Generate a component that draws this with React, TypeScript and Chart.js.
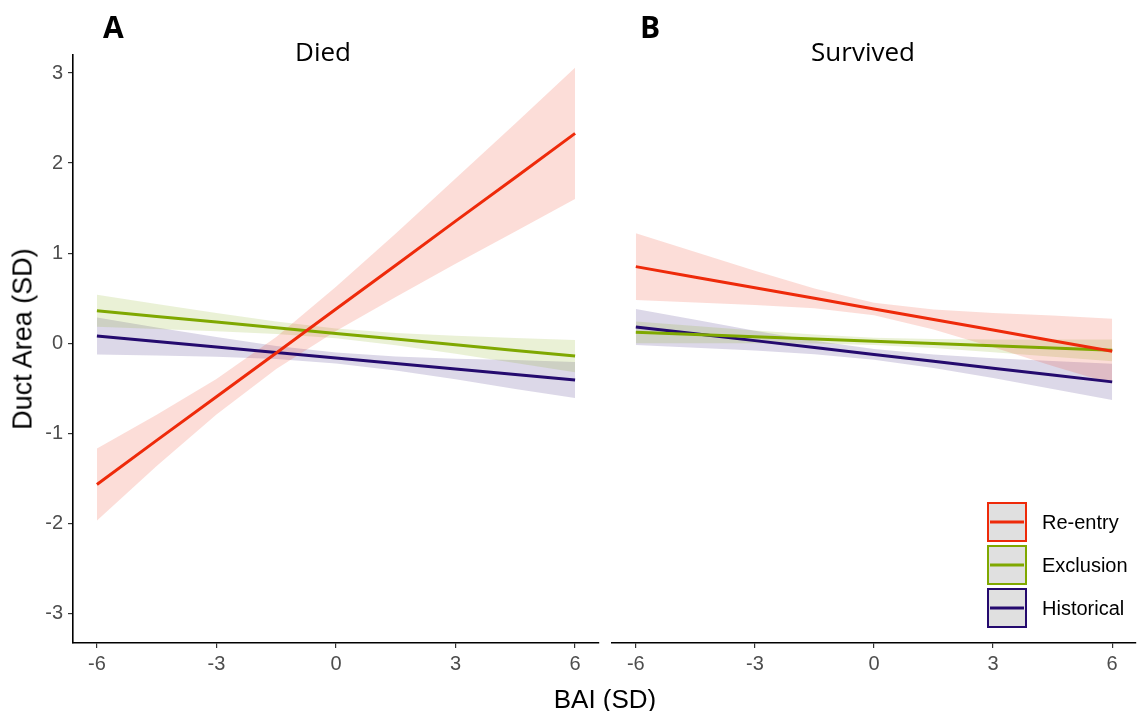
import React, { useEffect, useRef } from "react";
import { Chart, registerables } from "chart.js";
Chart.register(...registerables);

// ---- data ----
const bai = [-6, -4.5, -3, -1.5, 0, 1.5, 3, 4.5, 6];
const xTickValues = [-6, -3, 0, 3, 6];
const xTickLabels = ["-6", "-3", "0", "3", "6"];
const yTickValues = [-3, -2, -1, 0, 1, 2, 3];
const yTickLabels = ["-3", "-2", "-1", "0", "1", "2", "3"];
const groups = ["Re-entry", "Exclusion", "Historical"];
const panelTitles = ["Died", "Survived"];
const panelLetters = ["A", "B"];
const xTitle = "BAI (SD)";
const yTitle = "Duct Area (SD)";

// Died panel
const diedReentryFit = [-1.57, -1.08, -0.595, -0.11, 0.38, 0.865, 1.355, 1.84, 2.33];
const diedReentryHigh = [-1.17, -0.795, -0.398, 0.068, 0.625, 1.217, 1.828, 2.439, 3.06];
const diedReentryLow = [-1.97, -1.365, -0.792, -0.288, 0.135, 0.513, 0.882, 1.241, 1.6];
const diedExclusionFit = [0.36, 0.297, 0.234, 0.171, 0.108, 0.045, -0.018, -0.081, -0.144];
const diedExclusionHigh = [0.538, 0.436, 0.335, 0.24, 0.163, 0.114, 0.083, 0.058, 0.034];
const diedExclusionLow = [0.182, 0.158, 0.133, 0.102, 0.053, -0.024, -0.119, -0.22, -0.322];
const diedHistoricalFit = [0.08, 0.019, -0.042, -0.103, -0.165, -0.226, -0.287, -0.348, -0.41];
const diedHistoricalHigh = [0.285, 0.174, 0.068, -0.031, -0.105, -0.148, -0.172, -0.188, -0.21];
const diedHistoricalLow = [-0.125, -0.136, -0.152, -0.175, -0.225, -0.304, -0.402, -0.508, -0.61];

// Survived panel
const survReentryFit = [0.85, 0.7325, 0.615, 0.4975, 0.38, 0.2625, 0.145, 0.0275, -0.09];
const survReentryHigh = [1.22, 1.0125, 0.805, 0.6075, 0.45, 0.3725, 0.335, 0.3075, 0.27];
const survReentryLow = [0.48, 0.4525, 0.425, 0.3875, 0.31, 0.1525, -0.045, -0.2525, -0.45];
const survExclusionFit = [0.12, 0.095, 0.07, 0.045, 0.02, -0.005, -0.03, -0.055, -0.08];
const survExclusionHigh = [0.24, 0.19, 0.14, 0.095, 0.06, 0.045, 0.04, 0.04, 0.04];
const survExclusionLow = [0.0, 0.0, 0.0, -0.005, -0.02, -0.055, -0.1, -0.15, -0.2];
const survHistoricalFit = [0.18, 0.104, 0.028, -0.049, -0.125, -0.201, -0.278, -0.354, -0.43];
const survHistoricalHigh = [0.38, 0.259, 0.138, 0.026, -0.065, -0.126, -0.168, -0.199, -0.23];
const survHistoricalLow = [-0.02, -0.051, -0.082, -0.124, -0.185, -0.276, -0.388, -0.509, -0.63];

// ---- styles ----
const lineColors = ["#EE2A0A", "#7FA800", "#240A6E"];
const bandColors = ["rgba(238,42,10,0.16)", "rgba(127,168,0,0.16)", "rgba(36,10,110,0.16)"];
const tickFont = { family: '"Liberation Sans", Arial, sans-serif', size: 20 };

type Series = { fit: number[]; high: number[]; low: number[] };

const diedSeries: Series[] = [
  { fit: diedReentryFit, high: diedReentryHigh, low: diedReentryLow },
  { fit: diedExclusionFit, high: diedExclusionHigh, low: diedExclusionLow },
  { fit: diedHistoricalFit, high: diedHistoricalHigh, low: diedHistoricalLow },
];
const survSeries: Series[] = [
  { fit: survReentryFit, high: survReentryHigh, low: survReentryLow },
  { fit: survExclusionFit, high: survExclusionHigh, low: survExclusionLow },
  { fit: survHistoricalFit, high: survHistoricalHigh, low: survHistoricalLow },
];

const toPts = (ys: number[]) => bai.map((x, i) => ({ x, y: ys[i] }));

function buildDatasets(series: Series[]) {
  const ds: any[] = [];
  series.forEach((s, g) => {
    const base = ds.length;
    ds.push({
      label: groups[g] + " upper",
      data: toPts(s.high),
      borderWidth: 0,
      borderColor: "rgba(0,0,0,0)",
      backgroundColor: bandColors[g],
      pointRadius: 0,
      fill: { target: base + 1 },
    });
    ds.push({
      label: groups[g] + " lower",
      data: toPts(s.low),
      borderWidth: 0,
      borderColor: "rgba(0,0,0,0)",
      pointRadius: 0,
      fill: false,
    });
    ds.push({
      label: groups[g],
      data: toPts(s.fit),
      borderWidth: 3,
      borderColor: lineColors[g],
      pointRadius: 0,
      fill: false,
    });
  });
  return ds;
}

const legendPlugin = {
  id: "keyLegend",
  afterDraw(chart: any) {
    const { ctx, chartArea } = chart;
    const bx = chartArea.right - 149;
    const by0 = chartArea.bottom - 141;
    ctx.save();
    groups.forEach((g, i) => {
      const y = by0 + i * 43;
      ctx.fillStyle = "#E0E0E0";
      ctx.fillRect(bx, y, 40, 40);
      ctx.strokeStyle = lineColors[i];
      ctx.lineWidth = 2;
      ctx.strokeRect(bx + 1, y + 1, 38, 38);
      ctx.beginPath();
      ctx.moveTo(bx + 3, y + 20);
      ctx.lineTo(bx + 37, y + 20);
      ctx.lineWidth = 3;
      ctx.stroke();
      ctx.fillStyle = "#000";
      ctx.font = '20px "Liberation Sans", Arial, sans-serif';
      ctx.textBaseline = "middle";
      ctx.textAlign = "left";
      ctx.fillText(g, bx + 55, y + 21);
    });
    ctx.restore();
  },
};

function makeOptions(showY: boolean, padLeft: number, padRight: number): any {
  return {
    animation: false,
    responsive: false,
    maintainAspectRatio: false,
    layout: { padding: { top: 55, left: padLeft, right: padRight, bottom: 0 } },
    plugins: {
      legend: { display: false },
      tooltip: { enabled: false },
      filler: { drawTime: "beforeDatasetsDraw" },
    },
    elements: { point: { radius: 0 }, line: { tension: 0 } },
    scales: {
      x: {
        type: "linear",
        min: -6.6,
        max: 6.6,
        afterBuildTicks: (s: any) => {
          s.ticks = xTickValues.map((v) => ({ value: v }));
        },
        afterFit: (s: any) => {
          s.height = 68;
        },
        ticks: {
          color: "#4D4D4D",
          font: tickFont,
          padding: 4,
          maxRotation: 0,
          autoSkip: false,
          callback: (_v: any, i: number) => xTickLabels[i],
        },
        grid: { display: true, drawOnChartArea: false, drawTicks: true, tickLength: 5, color: "#333", lineWidth: 1.2 },
        border: { display: true, color: "#000", width: 1.6 },
      },
      y: {
        type: "linear",
        display: showY,
        min: -3.33,
        max: 3.2,
        afterBuildTicks: (s: any) => {
          s.ticks = yTickValues.map((v) => ({ value: v }));
        },
        afterFit: (s: any) => {
          s.width = showY ? 73 : 0;
        },
        ticks: {
          color: "#4D4D4D",
          font: tickFont,
          padding: 5,
          autoSkip: false,
          callback: (_v: any, i: number) => yTickLabels[i],
        },
        grid: { display: true, drawOnChartArea: false, drawTicks: true, tickLength: 5, color: "#333", lineWidth: 1.2 },
        border: { display: true, color: "#000", width: 1.6 },
      },
    },
  };
}

function Panel(props: { series: Series[]; showY: boolean; left: number; width: number; padLeft: number; padRight: number; legend: boolean }) {
  const ref = useRef<HTMLCanvasElement | null>(null);
  useEffect(() => {
    if (!ref.current) return;
    const chart = new Chart(ref.current, {
      type: "line",
      data: { datasets: buildDatasets(props.series) },
      options: makeOptions(props.showY, props.padLeft, props.padRight),
      plugins: props.legend ? [legendPlugin] : [],
    } as any);
    return () => chart.destroy();
  }, []);
  return (
    <canvas
      ref={ref}
      width={props.width}
      height={711}
      style={{ position: "absolute", left: props.left, top: 0, width: props.width, height: 711 }}
    />
  );
}

const openSans = '"Open Sans", "Noto Sans", sans-serif';
const arial = '"Liberation Sans", Arial, sans-serif';

export default function App() {
  useEffect(() => {
    document.body.style.margin = "0";
  }, []);
  return (
    <div style={{ position: "absolute", left: 0, top: 0, width: 1139, height: 711, background: "#fff", overflow: "hidden" }}>
      <Panel series={diedSeries} showY={true} left={0} width={605} padLeft={0} padRight={6} legend={false} />
      <Panel series={survSeries} showY={false} left={605} width={534} padLeft={7} padRight={3} legend={true} />
      <div style={{ position: "absolute", left: 103, top: 12, font: `bold 30px ${openSans}`, lineHeight: "30px", color: "#000" }}>
        {panelLetters[0]}
      </div>
      <div style={{ position: "absolute", left: 640, top: 12, font: `bold 30px ${openSans}`, lineHeight: "30px", color: "#000" }}>
        {panelLetters[1]}
      </div>
      <div style={{ position: "absolute", left: 223, width: 200, top: 38, textAlign: "center", font: `26px ${openSans}`, lineHeight: "26px", color: "#000" }}>
        {panelTitles[0]}
      </div>
      <div style={{ position: "absolute", left: 763, width: 200, top: 38, textAlign: "center", font: `26px ${openSans}`, lineHeight: "26px", color: "#000" }}>
        {panelTitles[1]}
      </div>
      <div style={{ position: "absolute", left: 505, width: 200, top: 686, textAlign: "center", font: `26px ${arial}`, lineHeight: "26px", color: "#000" }}>
        {xTitle}
      </div>
      <div
        style={{
          position: "absolute",
          left: 23,
          top: 339,
          transform: "translate(-50%, -50%) rotate(-90deg)",
          whiteSpace: "nowrap",
          font: `27px ${arial}`,
          lineHeight: "27px",
          color: "#000",
        }}
      >
        {yTitle}
      </div>
    </div>
  );
}
